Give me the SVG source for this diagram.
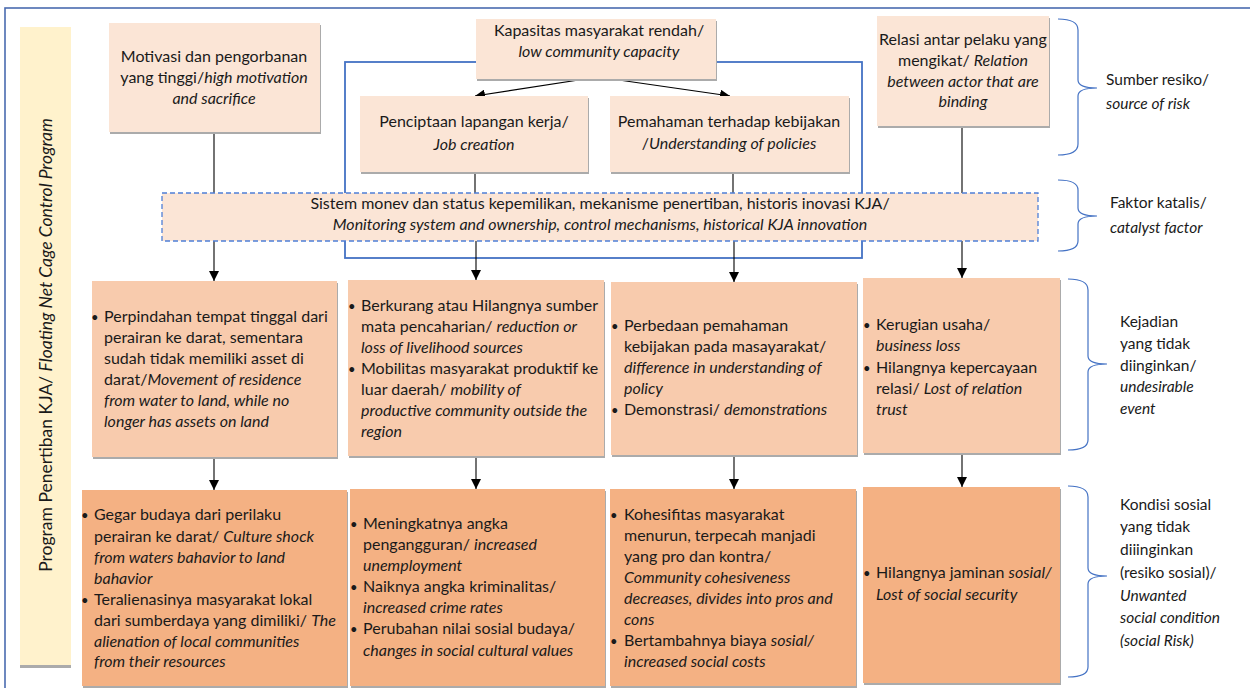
<svg xmlns="http://www.w3.org/2000/svg" width="1250" height="688" viewBox="0 0 1250 688">
<defs>
<style>
text{font-family:Lato,"Liberation Sans",sans-serif;font-size:16px;fill:#1a1a1a}
.c{text-anchor:middle}
.i{font-style:italic}
.b{font-size:13px}
.r{font-size:15.5px}
.lt{fill:#fbe5d6}
.md{fill:#f8cbad}
.dk{fill:#f4b183}
.sh{fill:#ababab}
.con{stroke:#000;stroke-width:1.1;fill:none}
.br{stroke:#4472c4;stroke-width:1.2;fill:none}
</style>
<marker id="ah" viewBox="0 0 10 10" refX="10" refY="5" markerWidth="10" markerHeight="10" markerUnits="userSpaceOnUse" orient="auto">
<path d="M0,0 L10,5 L0,10 z" fill="#000"/>
</marker>
</defs>
<rect width="1250" height="688" fill="#fff"/>
<rect x="5" y="8" width="1260" height="700" fill="none" stroke="#4a6bb0" stroke-width="1.6"/>

<g id="program">
<rect x="20" y="665" width="51" height="3" class="sh"/>
<rect x="20" y="27" width="51" height="638" fill="#fff2cc"/>
<text transform="translate(52,345) rotate(-90)" class="c" style="font-size:17.5px">Program Penertiban KJA/ <tspan class="i">Floating Net Cage Control Program</tspan></text>
</g>

<rect id="frame" x="345" y="62" width="517" height="196" fill="none" stroke="#4472c4" stroke-width="1.8"/>

<g id="connectors">
<line x1="214" y1="132" x2="214" y2="193" class="con"/>
<line x1="475" y1="172" x2="475" y2="193" class="con"/>
<line x1="733" y1="172" x2="733" y2="193" class="con"/>
<line x1="962" y1="126" x2="962" y2="193" class="con"/>
<line x1="598" y1="77" x2="475" y2="96" class="con" marker-end="url(#ah)"/>
<line x1="598" y1="77" x2="730" y2="96" class="con" marker-end="url(#ah)"/>
<line x1="214" y1="241" x2="214" y2="281" class="con" marker-end="url(#ah)"/>
<line x1="476" y1="241" x2="476" y2="280" class="con" marker-end="url(#ah)"/>
<line x1="734" y1="241" x2="734" y2="282" class="con" marker-end="url(#ah)"/>
<line x1="962" y1="241" x2="962" y2="278" class="con" marker-end="url(#ah)"/>
<line x1="214" y1="457" x2="214" y2="490" class="con" marker-end="url(#ah)"/>
<line x1="476" y1="456" x2="476" y2="489" class="con" marker-end="url(#ah)"/>
<line x1="734" y1="455" x2="734" y2="489" class="con" marker-end="url(#ah)"/>
<line x1="962" y1="453" x2="962" y2="487" class="con" marker-end="url(#ah)"/>
</g>

<g id="motivasi">
<rect x="110" y="25" width="211" height="109" class="sh"/>
<rect x="109" y="23" width="211" height="109" class="lt"/>
<text x="214" y="62" class="c">Motivasi dan pengorbanan</text>
<text x="214" y="83" class="c">yang tinggi/<tspan class="i">high motivation</tspan></text>
<text x="214" y="104" class="c i">and sacrifice</text>
</g>

<g id="kapasitas">
<rect x="477" y="21" width="240" height="60" class="sh"/>
<rect x="476" y="19" width="240" height="60" class="lt"/>
<text x="599" y="36" class="c">Kapasitas masyarakat rendah/</text>
<text x="599" y="57" class="c i">low community capacity</text>
</g>

<g id="penciptaan">
<rect x="361" y="98" width="228" height="76" class="sh"/>
<rect x="360" y="96" width="228" height="76" class="lt"/>
<text x="474" y="127" class="c">Penciptaan lapangan kerja/</text>
<text x="474" y="150" class="c i">Job creation</text>
</g>

<g id="pemahaman">
<rect x="611" y="98" width="239" height="76" class="sh"/>
<rect x="610" y="96" width="239" height="76" class="lt"/>
<text x="729" y="127" class="c">Pemahaman terhadap kebijakan</text>
<text x="729" y="149" class="c">/<tspan class="i">Understanding of policies</tspan></text>
</g>

<g id="relasi">
<rect x="878" y="18" width="172" height="110" class="sh"/>
<rect x="877" y="16" width="172" height="110" class="lt"/>
<text x="963" y="45" class="c">Relasi antar pelaku yang</text>
<text x="963" y="66" class="c">mengikat/ <tspan class="i">Relation</tspan></text>
<text x="963" y="87" class="c i">between actor that are</text>
<text x="963" y="107" class="c i">binding</text>
</g>

<g id="katalis">
<rect x="162" y="193" width="876" height="48" class="lt" stroke="#4f7fd6" stroke-width="1.3" stroke-dasharray="5,3"/>
<text x="600" y="209" class="c">Sistem monev dan status kepemilikan, mekanisme penertiban, historis inovasi KJA/</text>
<text x="600" y="230" class="c i">Monitoring system and ownership, control mechanisms, historical KJA innovation</text>
</g>

<g id="event1">
<rect x="93" y="283" width="245" height="176" class="sh"/>
<rect x="92" y="281" width="245" height="176" class="md"/>
<text x="91" y="322" class="b">•</text>
<text x="104" y="322">Perpindahan tempat tinggal dari</text>
<text x="104" y="343">perairan ke darat, sementara</text>
<text x="104" y="364">sudah tidak memiliki asset di</text>
<text x="104" y="385">darat/<tspan class="i">Movement of residence</tspan></text>
<text x="104" y="406" class="i">from water to land, while no</text>
<text x="104" y="427" class="i">longer has assets on land</text>
</g>

<g id="event2">
<rect x="349" y="282" width="256" height="176" class="sh"/>
<rect x="348" y="280" width="256" height="176" class="md"/>
<text x="348" y="311" class="b">•</text>
<text x="361" y="311">Berkurang atau Hilangnya sumber</text>
<text x="361" y="332">mata pencaharian/ <tspan class="i">reduction or</tspan></text>
<text x="361" y="353" class="i">loss of livelihood sources</text>
<text x="348" y="374" class="b">•</text>
<text x="361" y="374">Mobilitas masyarakat produktif ke</text>
<text x="361" y="395">luar daerah/ <tspan class="i">mobility of</tspan></text>
<text x="361" y="416" class="i">productive community outside the</text>
<text x="361" y="437" class="i">region</text>
</g>

<g id="event3">
<rect x="612" y="284" width="246" height="173" class="sh"/>
<rect x="611" y="282" width="246" height="173" class="md"/>
<text x="611" y="331" class="b">•</text>
<text x="624" y="331">Perbedaan pemahaman</text>
<text x="624" y="352">kebijakan pada masayarakat/</text>
<text x="624" y="373" class="i">difference in understanding of</text>
<text x="624" y="394" class="i">policy</text>
<text x="611" y="415" class="b">•</text>
<text x="624" y="415">Demonstrasi/ <tspan class="i">demonstrations</tspan></text>
</g>

<g id="event4">
<rect x="864" y="280" width="197" height="175" class="sh"/>
<rect x="863" y="278" width="197" height="175" class="md"/>
<text x="863" y="330" class="b">•</text>
<text x="876" y="330">Kerugian usaha/</text>
<text x="876" y="351" class="i">business loss</text>
<text x="863" y="373" class="b">•</text>
<text x="876" y="373">Hilangnya kepercayaan</text>
<text x="876" y="394">relasi/ <tspan class="i">Lost of relation</tspan></text>
<text x="876" y="415" class="i">trust</text>
</g>

<g id="social1">
<rect x="83" y="492" width="265" height="196" class="sh"/>
<rect x="82" y="490" width="265" height="196" class="dk"/>
<text x="81" y="520" class="b">•</text>
<text x="94" y="520">Gegar budaya dari perilaku</text>
<text x="94" y="542">perairan ke darat/ <tspan class="i">Culture shock</tspan></text>
<text x="94" y="563" class="i">from waters bahavior to land</text>
<text x="94" y="584" class="i">bahavior</text>
<text x="81" y="605" class="b">•</text>
<text x="94" y="605">Teralienasinya masyarakat lokal</text>
<text x="94" y="626">dari sumberdaya yang dimiliki/ <tspan class="i">The</tspan></text>
<text x="94" y="647" class="i">alienation of local communities</text>
<text x="94" y="667" class="i">from their resources</text>
</g>

<g id="social2">
<rect x="351" y="491" width="255" height="197" class="sh"/>
<rect x="350" y="489" width="255" height="197" class="dk"/>
<text x="350" y="529" class="b">•</text>
<text x="363" y="529">Meningkatnya angka</text>
<text x="363" y="550">pengangguran/ <tspan class="i">increased</tspan></text>
<text x="363" y="571" class="i">unemployment</text>
<text x="350" y="592" class="b">•</text>
<text x="363" y="592">Naiknya angka kriminalitas/</text>
<text x="363" y="613" class="i">increased crime rates</text>
<text x="350" y="634" class="b">•</text>
<text x="363" y="634">Perubahan nilai sosial budaya/</text>
<text x="363" y="656" class="i">changes in social cultural values</text>
</g>

<g id="social3">
<rect x="611" y="491" width="246" height="197" class="sh"/>
<rect x="610" y="489" width="246" height="197" class="dk"/>
<text x="610" y="520" class="b">•</text>
<text x="624" y="520">Kohesifitas masyarakat</text>
<text x="624" y="541">menurun, terpecah manjadi</text>
<text x="624" y="562">yang pro dan kontra/</text>
<text x="624" y="583" class="i">Community cohesiveness</text>
<text x="624" y="604" class="i">decreases, divides into pros and</text>
<text x="624" y="625" class="i">cons</text>
<text x="610" y="646" class="b">•</text>
<text x="624" y="646">Bertambahnya biaya <tspan class="i">sosial/</tspan></text>
<text x="624" y="667" class="i">increased social costs</text>
</g>

<g id="social4">
<rect x="864" y="489" width="197" height="196" class="sh"/>
<rect x="863" y="487" width="197" height="196" class="dk"/>
<text x="863" y="578" class="b">•</text>
<text x="876" y="578">Hilangnya jaminan <tspan class="i">sosial/</tspan></text>
<text x="876" y="600" class="i">Lost of social security</text>
</g>

<g id="label-source">
<path class="br" d="M1058,19 Q1078,19 1078,30 L1078,80 Q1078,88 1097,88 Q1078,88 1078,96 L1078,144 Q1078,155 1058,155"/>
<text x="1106" y="85" class="r">Sumber resiko/</text>
<text x="1106" y="109" class="r i">source of risk</text>
</g>

<g id="label-catalyst">
<path class="br" d="M1058,180 Q1078,180 1078,190 L1078,208 Q1078,216 1097,216 Q1078,216 1078,224 L1078,241 Q1078,251 1058,251"/>
<text x="1110" y="208" class="r">Faktor katalis/</text>
<text x="1110" y="233" class="r i">catalyst factor</text>
</g>

<g id="label-event">
<path class="br" d="M1068,279 Q1088,279 1088,290 L1088,356 Q1088,364 1107,364 Q1088,364 1088,372 L1088,440 Q1088,450 1068,450"/>
<text x="1120" y="327" class="r">Kejadian</text>
<text x="1120" y="349" class="r">yang tidak</text>
<text x="1120" y="371" class="r">diinginkan/</text>
<text x="1120" y="392" class="r i">undesirable</text>
<text x="1120" y="414" class="r i">event</text>
</g>

<g id="label-social">
<path class="br" d="M1068,486 Q1088,486 1088,497 L1088,568 Q1088,576 1107,576 Q1088,576 1088,584 L1088,667 Q1088,677 1068,677"/>
<text x="1120" y="510" class="r">Kondisi sosial</text>
<text x="1120" y="532" class="r">yang tidak</text>
<text x="1120" y="555" class="r">diiinginkan</text>
<text x="1120" y="578" class="r">(resiko sosial)/</text>
<text x="1120" y="601" class="r i">Unwanted</text>
<text x="1120" y="623" class="r i">social condition</text>
<text x="1120" y="646" class="r i">(social Risk)</text>
</g>
</svg>
